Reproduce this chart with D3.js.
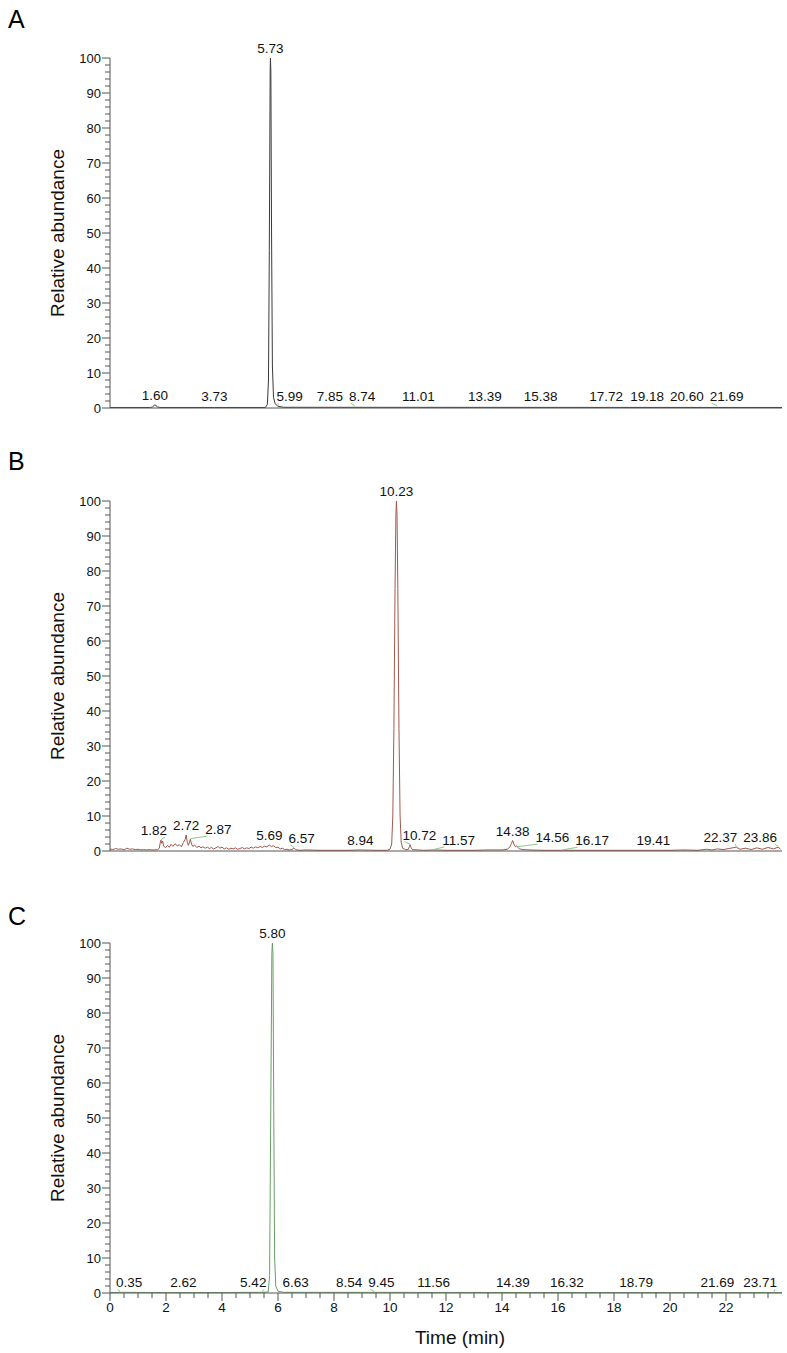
<!DOCTYPE html>
<html>
<head>
<meta charset="utf-8">
<script src="https://cdn.jsdelivr.net/npm/d3@7"></script>
<style>
  body { margin: 0; background: #fff; }
  text { font-family: "Liberation Sans", Arial, sans-serif; }
</style>
</head>
<body>
<div id="chart"></div>
<script>
// ---- data (time in min, relative abundance in %) ----
const traceA = [
  [0, 0.15], [1.45, 0.15], [1.52, 0.3], [1.57, 0.7], [1.60, 0.9], [1.64, 0.7], [1.70, 0.3],
  [1.78, 0.15], [3.73, 0.15], [5.55, 0.15], [5.62, 1], [5.66, 8], [5.69, 45], [5.72, 96],
  [5.73, 100], [5.745, 96], [5.77, 50], [5.80, 12], [5.84, 3], [5.90, 1.2], [6.0, 0.5],
  [6.2, 0.2], [24, 0.15]
];
const traceB = [
  [0.00, 0.6], [0.10, 0.4], [0.20, 0.7], [0.30, 0.5], [0.40, 0.6], [0.50, 0.3], [0.60, 0.8],
  [0.70, 0.5], [0.80, 0.6], [0.90, 0.4], [1.00, 0.5], [1.10, 0.3], [1.20, 0.4], [1.30, 0.3],
  [1.40, 0.4], [1.50, 0.3], [1.60, 0.3], [1.70, 0.4], [1.76, 0.8], [1.80, 2.6], [1.82, 3.1],
  [1.85, 2.2], [1.88, 2.8], [1.92, 1.4], [1.98, 0.9], [2.05, 1.6], [2.12, 1.1], [2.18, 1.9],
  [2.25, 1.3], [2.32, 2.1], [2.40, 1.5], [2.48, 1.8], [2.55, 1.2], [2.62, 2.4], [2.68, 3.2],
  [2.72, 4.6], [2.76, 2.5], [2.80, 1.6], [2.84, 2.6], [2.87, 3.4], [2.91, 2.0], [2.96, 1.3],
  [3.02, 1.7], [3.10, 1.0], [3.18, 1.4], [3.25, 0.9], [3.32, 1.2], [3.40, 0.8], [3.48, 1.1],
  [3.55, 0.7], [3.62, 1.0], [3.70, 0.6], [3.78, 0.9], [3.86, 1.3], [3.92, 0.8], [4.00, 1.1],
  [4.08, 0.6], [4.16, 0.9], [4.24, 0.5], [4.32, 0.8], [4.40, 0.6], [4.48, 0.9], [4.56, 0.5],
  [4.64, 0.7], [4.72, 1.0], [4.80, 0.6], [4.88, 0.9], [4.96, 0.7], [5.04, 1.1], [5.12, 0.8],
  [5.20, 1.2], [5.28, 0.9], [5.36, 1.3], [5.44, 1.0], [5.52, 1.4], [5.60, 1.2], [5.69, 1.7],
  [5.76, 1.3], [5.84, 1.5], [5.92, 1.0], [6.00, 1.1], [6.08, 0.6], [6.16, 0.8], [6.24, 0.4],
  [6.32, 0.5], [6.40, 0.3], [6.50, 0.4], [6.57, 0.9], [6.63, 0.4], [6.75, 0.2], [7.00, 0.3],
  [7.50, 0.2], [8.00, 0.2], [8.50, 0.2], [8.94, 0.3], [9.50, 0.2], [9.90, 0.2], [10.00, 0.5],
  [10.06, 2], [10.10, 10], [10.14, 35], [10.18, 75], [10.21, 96], [10.23, 100], [10.25, 96],
  [10.28, 75], [10.32, 35], [10.36, 10], [10.40, 2.5], [10.45, 0.8], [10.55, 0.4], [10.65, 0.4],
  [10.69, 1.2], [10.72, 1.8], [10.75, 1.0], [10.80, 0.4], [11.00, 0.3], [11.20, 0.2], [11.57, 0.3],
  [12.00, 0.2], [12.50, 0.2], [13.00, 0.2], [13.50, 0.3], [14.00, 0.3], [14.20, 0.5], [14.28, 1.2],
  [14.34, 2.2], [14.38, 3.0], [14.42, 2.0], [14.48, 1.2], [14.52, 1.5], [14.56, 1.1], [14.62, 0.6],
  [14.75, 0.4], [15.00, 0.3], [15.50, 0.2], [16.17, 0.2], [17.00, 0.2], [18.00, 0.2], [19.00, 0.2],
  [19.41, 0.2], [20.00, 0.2], [20.50, 0.3], [21.00, 0.2], [21.30, 0.5], [21.50, 0.3], [21.70, 0.6],
  [21.90, 0.4], [22.10, 0.7], [22.37, 1.1], [22.50, 0.5], [22.70, 0.8], [22.90, 0.4], [23.10, 0.9],
  [23.30, 0.5], [23.50, 1.0], [23.70, 0.6], [23.86, 1.1], [23.95, 0.5]
];
const traceC = [
  [0, 0.1], [0.35, 0.2], [2.62, 0.1], [5.42, 0.2], [5.65, 0.3], [5.70, 5], [5.74, 50],
  [5.78, 97], [5.80, 100], [5.82, 97], [5.85, 50], [5.88, 10], [5.92, 2], [6.0, 0.5],
  [6.2, 0.2], [24, 0.1]
];

// peak labels: [retention time, apex abundance]
const peaksA = [
  [1.60, 0.9], [3.73, 0.5], [5.73, 100], [5.99, 0.5], [7.85, 0.5], [8.74, 0.5], [11.01, 0.5],
  [13.39, 0.5], [15.38, 0.5], [17.72, 0.5], [19.18, 0.5], [20.60, 0.5], [21.69, 0.5]
];
const peaksB = [
  [1.82, 3.1], [2.72, 4.6], [2.87, 3.4], [5.69, 1.7], [6.57, 0.9], [8.94, 0.3], [10.23, 100],
  [10.72, 1.8], [11.57, 0.3], [14.38, 3.0], [14.56, 1.1], [16.17, 0.2], [19.41, 0.2],
  [22.37, 1.1], [23.86, 1.1]
];
const peaksC = [
  [0.35, 0.2], [2.62, 0.2], [5.42, 0.2], [5.80, 100], [6.63, 0.2], [8.54, 0.2], [9.45, 0.2],
  [11.56, 0.2], [14.39, 0.2], [16.32, 0.2], [18.79, 0.2], [21.69, 0.2], [23.71, 0.2]
];

const yTicks = d3.range(0, 101, 10);
const yMinorTicks = d3.range(0, 101, 2);
const xTicks = d3.range(0, 23, 2);
const xMinorTicks = d3.range(0, 24, 0.5);

// ---- layout ----
const W = 787, H = 1353;
const x0 = 110, x1 = 782;

const panels = [
  { letter: "A", letterY: 28, base: 408, trace: traceA, peaks: peaksA, color: "#3a3a3a", xAxis: false },
  { letter: "B", letterY: 470, base: 851, trace: traceB, peaks: peaksB, color: "#a3584c", xAxis: false },
  { letter: "C", letterY: 925, base: 1293, trace: traceC, peaks: peaksC, color: "#6a9e66", xAxis: true }
];

const svg = d3.select("#chart").append("svg")
  .attr("width", W)
  .attr("height", H)
  .style("background", "#fff");

const x = d3.scaleLinear().domain([0, 24]).range([x0, x1]);

const axisColor = "#555";
const leaderColor = "#8cc68c";
const labelSize = 13.5;

function placeLabels(g, peaks, y) {
  const gap = 6;
  const main = peaks.reduce((a, b) => (b[1] > a[1] ? b : a));
  const px = x(main[0]);

  // main peak label on top
  g.append("text")
    .attr("x", px)
    .attr("y", y(main[1]) - 5)
    .attr("text-anchor", "middle")
    .attr("font-size", labelSize)
    .attr("fill", "#111")
    .text(main[0].toFixed(2));

  const items = peaks.filter(p => p !== main).map(p => {
    const t = g.append("text")
      .attr("font-size", labelSize)
      .attr("fill", "#111")
      .text(p[0].toFixed(2));
    const w = t.node().getComputedTextLength();
    return { rt: p[0], h: p[1], cx: x(p[0]), w, t, left: x(p[0]) - w / 2 };
  });

  // keep clear of the main peak line
  items.forEach(it => {
    if (it.left < px + gap && it.left + it.w > px - gap) {
      it.left = it.cx < px ? px - gap - it.w : px + gap;
    }
  });

  // sweep left to right, lower peaks give way
  items.forEach((it, i) => {
    const prev = items[i - 1];
    const minLeft = prev ? prev.left + prev.w + gap : x0 + gap;
    if (it.left < minLeft) {
      if (prev && it.h > prev.h) {
        const prev2 = items[i - 2];
        const prevMin = prev2 ? prev2.left + prev2.w + gap : x0 + gap;
        const shift = minLeft - it.left;
        prev.left = Math.max(prevMin, prev.left - shift);
        it.left = Math.max(it.left, prev.left + prev.w + gap);
      } else {
        it.left = minLeft;
      }
    }
  });

  // sweep right to left against the plot's right edge
  for (let i = items.length - 1; i >= 0; i--) {
    const it = items[i];
    const next = items[i + 1];
    const maxRight = next ? next.left - gap : x1 - 5;
    if (it.left + it.w > maxRight) it.left = maxRight - it.w;
  }

  items.forEach(it => {
    const by = y(it.h) - 5;
    it.t.attr("x", it.left).attr("y", by);
    const c = it.left + it.w / 2;
    if (Math.abs(c - it.cx) > 3) {
      const ex = c < it.cx ? it.left + it.w - 2 : it.left + 2;
      g.append("line")
        .attr("x1", it.cx).attr("y1", y(it.h) - 0.5)
        .attr("x2", ex).attr("y2", by + 2)
        .attr("stroke", leaderColor)
        .attr("stroke-width", 1);
    }
  });
}

panels.forEach(p => {
  const g = svg.append("g");
  const y = d3.scaleLinear().domain([0, 100]).range([p.base, p.base - 350]);

  // trace (under the axes)
  const line = d3.line()
    .x(d => x(d[0]))
    .y(d => y(d[1]));

  g.append("path")
    .datum(p.trace)
    .attr("d", line)
    .attr("fill", "none")
    .attr("stroke", p.color)
    .attr("stroke-width", 1);

  // panel letter
  g.append("text")
    .attr("x", 8)
    .attr("y", p.letterY)
    .attr("font-size", 25)
    .attr("fill", "#000")
    .text(p.letter);

  // y axis title
  g.append("text")
    .attr("transform", `translate(64,${p.base - 175}) rotate(-90)`)
    .attr("text-anchor", "middle")
    .attr("font-size", 19)
    .attr("fill", "#111")
    .text("Relative abundance");

  // y axis
  g.append("line")
    .attr("x1", x0).attr("x2", x0)
    .attr("y1", y(0)).attr("y2", y(100))
    .attr("stroke", axisColor);

  g.selectAll("line.ymin")
    .data(yMinorTicks.filter(v => v % 10 !== 0))
    .enter().append("line")
    .attr("class", "ymin")
    .attr("x1", x0 - 5).attr("x2", x0)
    .attr("y1", d => y(d)).attr("y2", d => y(d))
    .attr("stroke", axisColor);

  g.selectAll("line.ymaj")
    .data(yTicks)
    .enter().append("line")
    .attr("class", "ymaj")
    .attr("x1", x0 - 8).attr("x2", x0)
    .attr("y1", d => y(d)).attr("y2", d => y(d))
    .attr("stroke", axisColor);

  g.selectAll("text.ylab")
    .data(yTicks)
    .enter().append("text")
    .attr("class", "ylab")
    .attr("x", x0 - 9)
    .attr("y", d => y(d) + 4.5)
    .attr("text-anchor", "end")
    .attr("font-size", 13)
    .attr("fill", "#111")
    .text(d => d);

  // baseline
  g.append("line")
    .attr("x1", x0).attr("x2", x1)
    .attr("y1", y(0)).attr("y2", y(0))
    .attr("stroke", axisColor);

  if (p.xAxis) {
    g.selectAll("line.xmin")
      .data(xMinorTicks.filter(v => v % 2 !== 0))
      .enter().append("line")
      .attr("class", "xmin")
      .attr("x1", d => x(d)).attr("x2", d => x(d))
      .attr("y1", y(0)).attr("y2", y(0) + 5)
      .attr("stroke", axisColor);

    g.selectAll("line.xmaj")
      .data(xTicks)
      .enter().append("line")
      .attr("class", "xmaj")
      .attr("x1", d => x(d)).attr("x2", d => x(d))
      .attr("y1", y(0)).attr("y2", y(0) + 8)
      .attr("stroke", axisColor);

    g.selectAll("text.xlab")
      .data(xTicks)
      .enter().append("text")
      .attr("class", "xlab")
      .attr("x", d => x(d))
      .attr("y", y(0) + 19)
      .attr("text-anchor", "middle")
      .attr("font-size", 13.5)
      .attr("fill", "#111")
      .text(d => d);

    g.append("text")
      .attr("x", 460)
      .attr("y", y(0) + 51)
      .attr("text-anchor", "middle")
      .attr("font-size", 19)
      .attr("fill", "#111")
      .text("Time (min)");
  }

  placeLabels(g, p.peaks, y);
});
</script>
</body>
</html>
